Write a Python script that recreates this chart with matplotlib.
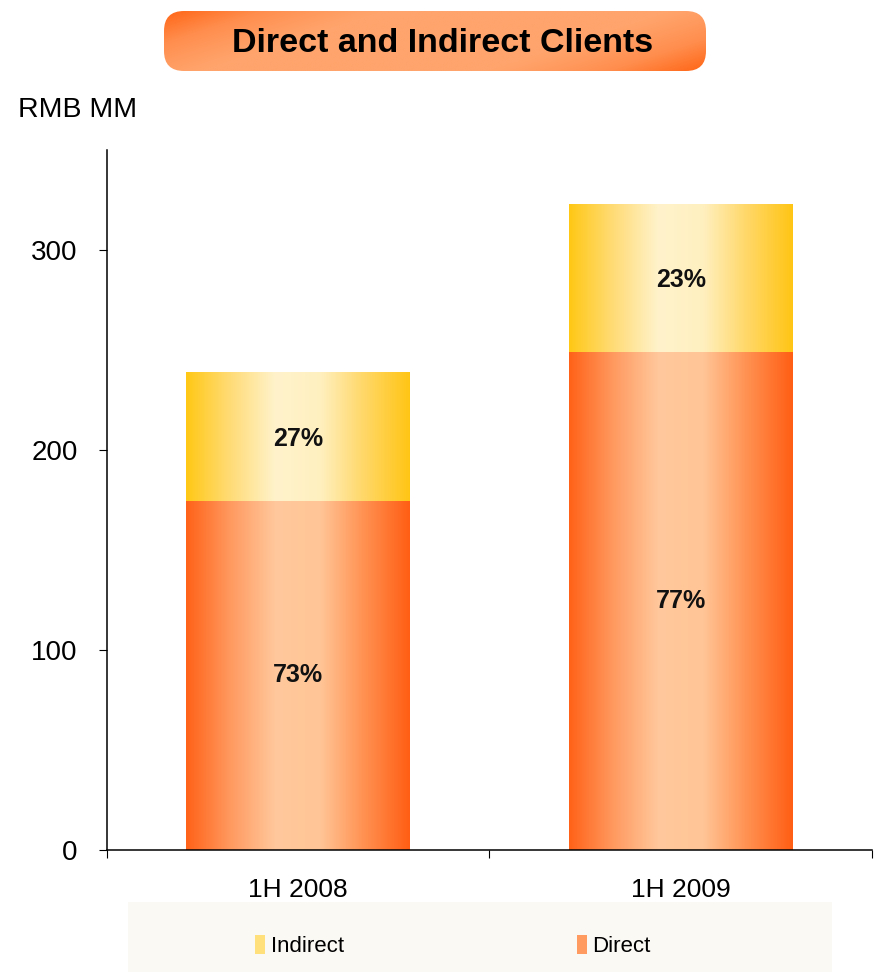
import numpy as np
import matplotlib
matplotlib.use("Agg")
import matplotlib.pyplot as plt
from matplotlib.colors import LinearSegmentedColormap
from matplotlib.patches import FancyBboxPatch, Rectangle, Patch

plt.rcParams['font.family'] = ['Liberation Sans', 'DejaVu Sans']

categories = ["1H 2008", "1H 2009"]
direct = [174.5, 249]
indirect = [64.5, 74]
direct_pct = ["73%", "77%"]
indirect_pct = ["27%", "23%"]
yticks = [0, 100, 200, 300]

W, H = 879, 973
fig = plt.figure(figsize=(W / 100, H / 100), dpi=100)
ax = fig.add_axes([107 / W, 123 / H, 765 / W, 700 / H])

cm_direct = LinearSegmentedColormap.from_list("d", ["#FF6218", "#FF9A60", "#FFC89C", "#FFC596", "#FF9050", "#FF5E14"])
cm_indirect = LinearSegmentedColormap.from_list("i", ["#FFC815", "#FFDC78", "#FFF3CC", "#FFF0C0", "#FFD766", "#FFC515"])

width = 0.585
x = np.arange(len(categories))
b1 = ax.bar(x, direct, width=width, color="#FFA070", edgecolor="none", label="Direct")
b2 = ax.bar(x, indirect, width=width, bottom=direct, color="#FFE08A", edgecolor="none", label="Indirect")

grad = np.linspace(0, 1, 256).reshape(1, -1)
for bars, cmap in ((b1, cm_direct), (b2, cm_indirect)):
    for p in bars:
        x0, y0 = p.get_x(), p.get_y()
        w, h = p.get_width(), p.get_height()
        im = ax.imshow(grad, cmap=cmap, aspect="auto", extent=[x0, x0 + w, y0, y0 + h],
                       interpolation="bilinear", zorder=2)
        im.set_clip_path(p)

for i in range(len(categories)):
    ax.text(x[i], direct[i] * 0.5, direct_pct[i], ha="center", va="center",
            fontsize=18, fontweight="bold", color="#111111", zorder=3)
    ax.text(x[i], direct[i] + indirect[i] * 0.5 - 1, indirect_pct[i], ha="center", va="center",
            fontsize=18, fontweight="bold", color="#111111", zorder=3)

ax.set_xlim(-0.5, 1.5)
ax.set_ylim(0, 350)
ax.set_yticks(yticks)
ax.set_yticklabels([str(t) for t in yticks], fontsize=20)
ax.set_xticks([-0.5, 0.5, 1.5])
ax.set_xticklabels([])
ax.set_xticks(x, minor=True)
ax.set_xticklabels(categories, minor=True, fontsize=19)
ax.tick_params(axis="x", which="minor", length=0, pad=20)
ax.tick_params(axis="x", which="major", length=6, direction="out")
ax.tick_params(axis="y", length=6, direction="out", pad=15)
for s in ("top", "right"):
    ax.spines[s].set_visible(False)
ax.spines["left"].set_linewidth(1.1)
ax.spines["bottom"].set_linewidth(1.1)

fig.text(18 / W, 1 - 110 / H, "RMB MM", fontsize=20.5, va="center", ha="left")

# Title box with gradient
tax = fig.add_axes([163 / W, 1 - 72 / H, 544 / W, 62 / H])
tax.set_xlim(0, 544)
tax.set_ylim(0, 62)
tax.axis("off")
xx, yy = np.meshgrid(np.linspace(0, 1, 300), np.linspace(1, 0, 60))
t = (xx * 544 + (1 - yy) * 62 * 3) / (544 + 62 * 3)
val = np.abs(t - 0.5) * 2
val = np.clip((val - 0.4) / 0.6, 0, 1) ** 1.1
cm_title = LinearSegmentedColormap.from_list("t", ["#FFA46C", "#FF8E4E", "#FF6414"])
box = FancyBboxPatch((1, 1), 542, 60, boxstyle="round,pad=0,rounding_size=20",
                     facecolor="none", edgecolor="none")
tax.add_patch(box)
tim = tax.imshow(val, cmap=cm_title, extent=[0, 544, 0, 62], aspect="auto", interpolation="bilinear")
tim.set_clip_path(box)
tax.text(280, 28, "Direct and Indirect Clients", ha="center", va="center",
         fontsize=24.5, fontweight="bold", color="black")

# Legend background
fig.patches.append(Rectangle((128 / W, 1 - 972 / H), 704 / W, 70 / H, transform=fig.transFigure,
                             facecolor="#FBF9F4", edgecolor="none", zorder=0))
handles = [Patch(facecolor="#FFE07A", edgecolor="none", label="Indirect"),
           Patch(facecolor="#FF9A60", edgecolor="none", label="Direct")]
fig.legend(handles=handles, loc="center", bbox_to_anchor=(453 / W, 1 - 946 / H), ncol=2,
           frameon=False, fontsize=16, handlelength=0.45, handleheight=0.9,
           handletextpad=0.25, columnspacing=10.5)

fig.savefig("out.png", dpi=100)
